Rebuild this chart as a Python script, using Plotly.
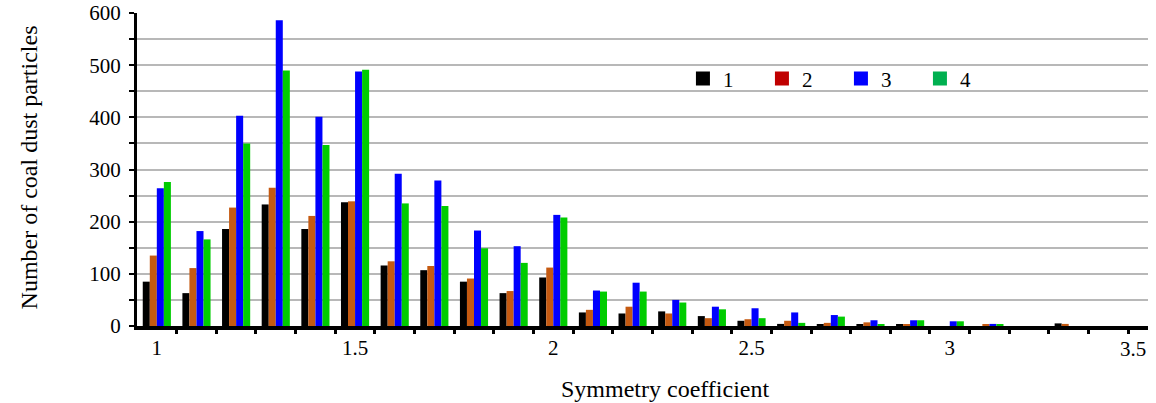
import plotly.graph_objects as go

# Symmetry coefficient classes (bin centres)
coef = [1.0, 1.1, 1.2, 1.3, 1.4, 1.5, 1.6, 1.7, 1.8, 1.9,
        2.0, 2.1, 2.2, 2.3, 2.4, 2.5, 2.6, 2.7, 2.8, 2.9,
        3.0, 3.1, 3.2, 3.3, 3.4, 3.5]

# Particle counts for the four samples
sample1 = [85, 63, 186, 233, 186, 237, 116, 107, 85, 63,
           93, 26, 24, 28, 19, 10, 4, 3, 3, 3,
           0, 0, 0, 5, 0, 0]
sample2 = [135, 111, 227, 265, 211, 239, 124, 115, 91, 67,
           112, 31, 37, 24, 15, 13, 10, 6, 7, 3,
           0, 3, 0, 4, 0, 0]
sample3 = [264, 182, 403, 586, 401, 488, 292, 279, 183, 153,
           213, 68, 83, 50, 37, 34, 26, 21, 11, 11,
           9, 4, 0, 0, 0, 0]
sample4 = [276, 166, 350, 490, 347, 491, 235, 230, 149, 121,
           208, 66, 66, 45, 32, 15, 6, 18, 3, 11,
           9, 2, 0, 0, 0, 0]

series_names = ["1", "2", "3", "4"]
bar_colors = ["#000000", "#c55a11", "#0000ff", "#00cc00"]
legend_colors = ["#000000", "#c00000", "#0000ff", "#00b050"]

x_tick_vals = [1, 1.5, 2, 2.5, 3]
x_tick_text = ["1", "1.5", "2", "2.5", "3"]
x_bin_edges = [1.05, 1.15, 1.25, 1.35, 1.45, 1.55, 1.65, 1.75, 1.85, 1.95,
               2.05, 2.15, 2.25, 2.35, 2.45, 2.55, 2.65, 2.75, 2.85, 2.95,
               3.05, 3.15, 3.25, 3.35, 3.45]
y_tick_vals = [0, 50, 100, 150, 200, 250, 300, 350, 400, 450, 500, 550, 600]
y_tick_text = ["0", "", "100", "", "200", "", "300", "", "400", "", "500", "", "600"]

FONT = "Liberation Serif"

fig = go.Figure()

for name, vals, col in zip(series_names, [sample1, sample2, sample3, sample4], bar_colors):
    fig.add_trace(go.Bar(x=coef, y=vals, name=name, marker=dict(color=col, line=dict(width=0)),
                         showlegend=False))

# legend entries (square keys)
for name, col in zip(series_names, legend_colors):
    fig.add_trace(go.Scatter(x=[None], y=[None], mode="markers", name=name,
                             marker=dict(symbol="square", size=14, color=col),
                             showlegend=True))

fig.update_layout(
    width=1156, height=403,
    margin=dict(l=137, r=8, t=13, b=77, autoexpand=False),
    paper_bgcolor="white", plot_bgcolor="white",
    barmode="group", bargap=0.29, bargroupgap=0,
    font=dict(family=FONT, size=21, color="black"),
    legend=dict(orientation="h", x=0.54, y=0.79, xanchor="left", yanchor="middle",
                font=dict(family=FONT, size=21, color="black"),
                entrywidth=34, entrywidthmode="pixels",
                bgcolor="rgba(0,0,0,0)", itemclick=False),
    showlegend=True,
)

fig.update_xaxes(
    range=[0.95, 3.5], automargin=False,
    tickmode="array", tickvals=x_tick_vals, ticktext=x_tick_text,
    ticks="outside", ticklen=0, tickwidth=0,
    ticklabelstandoff=0,
    showgrid=False, zeroline=False,
    showline=True, linecolor="black", linewidth=4,
    minor=dict(tickmode="array", tickvals=x_bin_edges, ticks="outside",
               ticklen=4, tickwidth=3, tickcolor="black", showgrid=False),
    tickfont=dict(family=FONT, size=21),
)

fig.update_yaxes(
    range=[0, 600], automargin=False,
    tickmode="array", tickvals=y_tick_vals, ticktext=y_tick_text,
    ticks="outside", ticklen=5, tickwidth=2, tickcolor="black",
    ticklabelstandoff=4,
    showgrid=True, gridcolor="#b8b8b8", gridwidth=1.5,
    zeroline=False,
    showline=True, linecolor="black", linewidth=3,
    tickfont=dict(family=FONT, size=21),
)

# axis titles
fig.add_annotation(x=0.522, y=-0.201, xref="paper", yref="paper", text="Symmetry coefficient",
                   showarrow=False, xanchor="center", yanchor="middle",
                   font=dict(family=FONT, size=24, color="black"))
fig.add_annotation(x=-0.107, y=0.506, xref="paper", yref="paper", text="Number of coal dust particles",
                   showarrow=False, xanchor="center", yanchor="middle", textangle=-90,
                   font=dict(family=FONT, size=24, color="black"))

# last x-axis label sits against the right edge of the plot
fig.add_annotation(x=3.5, y=0, xref="x", yref="paper", text="3.5", showarrow=False,
                   xanchor="right", yanchor="top", yshift=-9,
                   font=dict(family=FONT, size=21, color="black"))

fig.write_html("out.html")
